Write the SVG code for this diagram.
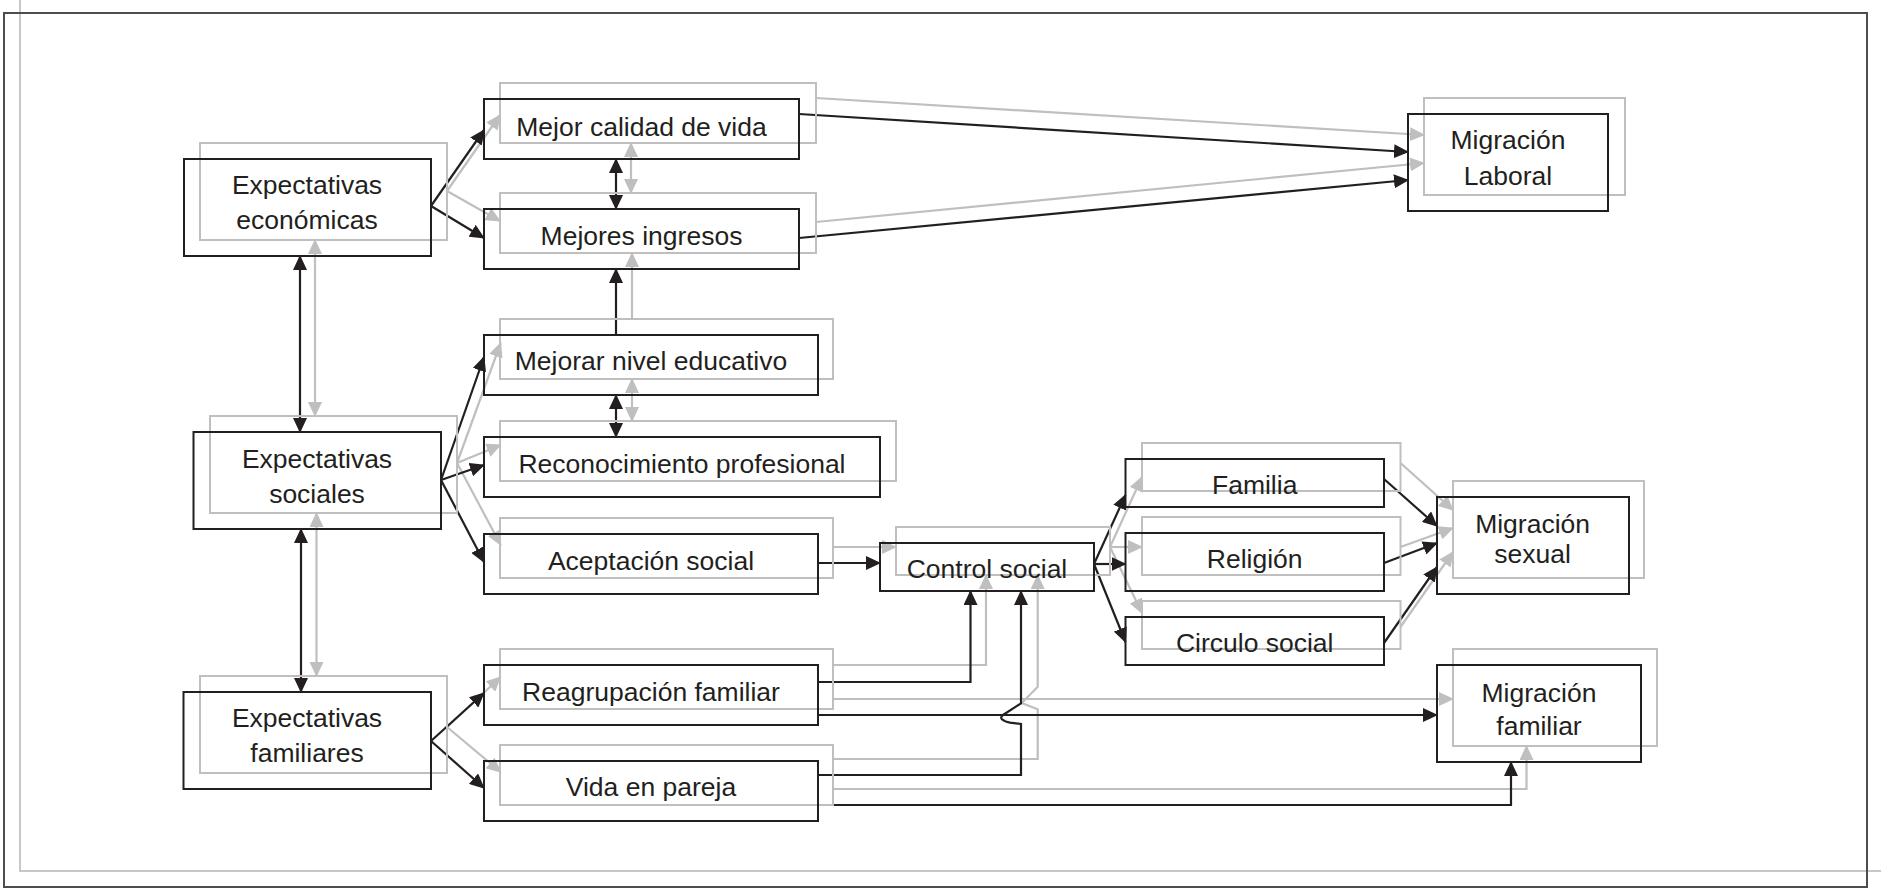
<svg xmlns="http://www.w3.org/2000/svg" width="1881" height="888" viewBox="0 0 1881 888">
  <style>
    .bx { fill: none; stroke: #231f20; stroke-width: 2; }
    .bg { fill: none; stroke: #bfbfbf; stroke-width: 2; }
    .lk { fill: none; stroke: #231f20; stroke-width: 2.2; marker-end: url(#ak); }
    .lg { fill: none; stroke: #bfbfbf; stroke-width: 2.2; marker-end: url(#ag); }
    .dk { marker-start: url(#ak); }
    .dg { marker-start: url(#ag); }
    text { font-family: "Liberation Sans", Arial, Helvetica, sans-serif; font-size: 26.5px; fill: #231f20; text-anchor: middle; }
  </style>
  <defs>
    <marker id="ak" markerUnits="userSpaceOnUse" markerWidth="15" markerHeight="14" refX="14" refY="7" orient="auto-start-reverse">
      <path d="M0,0 L15,7 L0,14 z" fill="#231f20"/>
    </marker>
    <marker id="ag" markerUnits="userSpaceOnUse" markerWidth="15" markerHeight="14" refX="14" refY="7" orient="auto-start-reverse">
      <path d="M0,0 L15,7 L0,14 z" fill="#bfbfbf"/>
    </marker>
  </defs>

  <rect width="1881" height="888" fill="#ffffff"/>

  <!-- page frame -->
  <path d="M20,0 V871 H1881" fill="none" stroke="#c8c8c8" stroke-width="2"/>
  <rect x="4" y="13" width="1863" height="874" fill="none" stroke="#4d4d4d" stroke-width="2"/>

  <g id="connectors">
    <!-- grey shadow paths -->
    <path class="lg" d="M447,191 L500,115"/>
    <path class="lg" d="M447,191 L500,221"/>
    <path class="lg" d="M816,98 L1424,135"/>
    <path class="lg" d="M816,222 L1424,163"/>
    <path class="lg dg" d="M315,240 V416"/>
    <path class="lg dg" d="M631,143 V193"/>
    <path class="lg" d="M632,319 V253"/>
    <path class="lg dg" d="M632,379 V421"/>
    <path class="lg" d="M457,463 L500.7,343"/>
    <path class="lg" d="M457,463 L500.7,445"/>
    <path class="lg" d="M457,463 L500.7,545"/>
    <path class="lg dg" d="M316.5,513 V676"/>
    <path class="lg" d="M833,547 H896"/>
    <path class="lg" d="M1110,547 L1142,477"/>
    <path class="lg" d="M1110,547 H1142"/>
    <path class="lg" d="M1110,547 L1142,613"/>
    <path class="lg" d="M1400.5,463 L1453,510"/>
    <path class="lg" d="M1400.5,547 L1453,528"/>
    <path class="lg" d="M1400.5,627 L1453,552"/>
    <path class="lg" d="M447,727 L500.7,677"/>
    <path class="lg" d="M447,727 L500.7,772"/>
    <path class="lg" d="M833,665 H986 V575"/>
    <path class="lg" d="M833,699 H1453"/>
    <path class="lg" d="M833,759 H1037.7 V709.3 L1021.7,703 L1037.7,686.7 V575"/>
    <path class="lg" d="M833,789 H1526.5 V746"/>

    <!-- black paths -->
    <path class="lk" d="M431,206 L484,130"/>
    <path class="lk" d="M431,206 L484,238"/>
    <path class="lk" d="M799,114 L1408,152"/>
    <path class="lk" d="M799,238 L1408,180"/>
    <path class="lk dk" d="M300,256 V432"/>
    <path class="lk dk" d="M616,159 V209"/>
    <path class="lk" d="M616,335 V269"/>
    <path class="lk dk" d="M616,395 V437"/>
    <path class="lk" d="M441,480 L484,357"/>
    <path class="lk" d="M441,480 L484,465"/>
    <path class="lk" d="M441,480 L484,562"/>
    <path class="lk dk" d="M301,529 V692"/>
    <path class="lk" d="M818,563 H880"/>
    <path class="lk" d="M1094,564 L1125.5,495"/>
    <path class="lk" d="M1094,564 H1125.5"/>
    <path class="lk" d="M1094,564 L1125.5,642"/>
    <path class="lk" d="M1384,479 L1437,526"/>
    <path class="lk" d="M1384,563 L1437,543"/>
    <path class="lk" d="M1384,643 L1437,567"/>
    <path class="lk" d="M431,741 L484,693"/>
    <path class="lk" d="M431,741 L484,788"/>
    <path class="lk" d="M818,682 H970.5 V591"/>
    <path class="lk" d="M818,715 H1437"/>
    <path class="lk" d="M818,775 H1021 V724 L1010,722.7 C1002,721 999,718 1003,715 L1021,703.3 V591"/>
    <path class="lk" d="M818,805 H1511 V762"/>
  </g>

  <g id="exp-economicas">
    <rect class="bg" x="200" y="143" width="247" height="97"/>
    <rect class="bx" x="184" y="159" width="247" height="97"/>
    <text x="307" y="194.3">Expectativas</text>
    <text x="307" y="229.3">económicas</text>
  </g>
  <g id="calidad-vida">
    <rect class="bg" x="500" y="83" width="316" height="60"/>
    <rect class="bx" x="484" y="99" width="315" height="60"/>
    <text x="641.5" y="135.7">Mejor calidad de vida</text>
  </g>
  <g id="ingresos">
    <rect class="bg" x="500" y="193" width="316" height="60"/>
    <rect class="bx" x="484" y="209" width="315" height="60"/>
    <text x="641.5" y="245">Mejores ingresos</text>
  </g>
  <g id="migracion-laboral">
    <rect class="bg" x="1424" y="98" width="201" height="97"/>
    <rect class="bx" x="1408" y="114" width="200" height="97"/>
    <text x="1508" y="149.3">Migración</text>
    <text x="1508" y="185">Laboral</text>
  </g>
  <g id="nivel-educativo">
    <rect class="bg" x="500" y="319" width="333" height="60"/>
    <rect class="bx" x="484" y="335" width="334" height="60"/>
    <text x="651" y="370">Mejorar nivel educativo</text>
  </g>
  <g id="reconocimiento">
    <rect class="bg" x="500" y="421" width="396" height="60"/>
    <rect class="bx" x="484" y="437" width="396" height="60"/>
    <text x="682" y="472.7">Reconocimiento profesional</text>
  </g>
  <g id="aceptacion">
    <rect class="bg" x="500" y="518" width="333" height="60"/>
    <rect class="bx" x="484" y="534" width="334" height="60"/>
    <text x="651" y="570">Aceptación social</text>
  </g>
  <g id="exp-sociales">
    <rect class="bg" x="210" y="416" width="247" height="97"/>
    <rect class="bx" x="193.5" y="432" width="247.5" height="97"/>
    <text x="317" y="467.7">Expectativas</text>
    <text x="317" y="502.7">sociales</text>
  </g>
  <g id="control-social">
    <rect class="bg" x="896" y="527" width="214" height="48"/>
    <rect class="bx" x="880" y="543" width="214" height="48"/>
    <text x="987" y="578.3">Control social</text>
  </g>
  <g id="familia">
    <rect class="bg" x="1142" y="443" width="258.5" height="48"/>
    <rect class="bx" x="1125.5" y="459" width="258.5" height="48"/>
    <text x="1254.7" y="494.3">Familia</text>
  </g>
  <g id="religion">
    <rect class="bg" x="1142" y="517" width="258.5" height="58"/>
    <rect class="bx" x="1125.5" y="533" width="258.5" height="58"/>
    <text x="1254.7" y="568.3">Religión</text>
  </g>
  <g id="circulo-social">
    <rect class="bg" x="1142" y="601" width="258.5" height="48"/>
    <rect class="bx" x="1125.5" y="617" width="258.5" height="48"/>
    <text x="1254.7" y="651.7">Circulo social</text>
  </g>
  <g id="migracion-sexual">
    <rect class="bg" x="1453" y="481" width="191" height="97"/>
    <rect class="bx" x="1437" y="497" width="192" height="97"/>
    <text x="1532.6" y="532.7">Migración</text>
    <text x="1532.6" y="562.7">sexual</text>
  </g>
  <g id="exp-familiares">
    <rect class="bg" x="200" y="676" width="247" height="97"/>
    <rect class="bx" x="183.5" y="692" width="247.5" height="97"/>
    <text x="307" y="727.3">Expectativas</text>
    <text x="307" y="762.3">familiares</text>
  </g>
  <g id="reagrupacion">
    <rect class="bg" x="500" y="649" width="333" height="60"/>
    <rect class="bx" x="484" y="665" width="334" height="60"/>
    <text x="651" y="700.7">Reagrupación familiar</text>
  </g>
  <g id="vida-pareja">
    <rect class="bg" x="500" y="745" width="333" height="60"/>
    <rect class="bx" x="484" y="761" width="334" height="60"/>
    <text x="651" y="796">Vida en pareja</text>
  </g>
  <g id="migracion-familiar">
    <rect class="bg" x="1453" y="649" width="204" height="97"/>
    <rect class="bx" x="1437" y="665" width="204" height="97"/>
    <text x="1539" y="701.7">Migración</text>
    <text x="1539" y="735">familiar</text>
  </g>
</svg>
